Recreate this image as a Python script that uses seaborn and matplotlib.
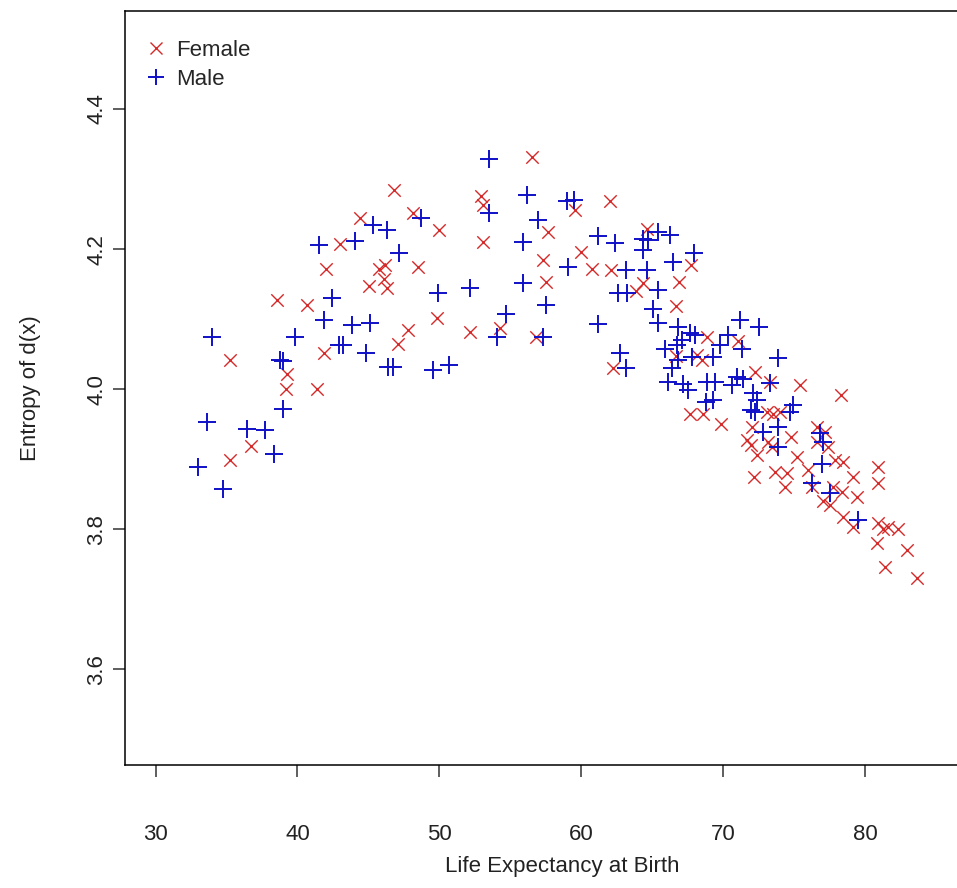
import matplotlib
matplotlib.use("Agg")
import matplotlib.pyplot as plt
from matplotlib.lines import Line2D
import pandas as pd
import seaborn as sns

# life expectancy at birth / entropy of d(x)
female_e0 = [35.25, 35.25, 36.73, 38.54, 39.25, 39.2, 40.65, 41.36, 41.87, 42.02,
             43.0, 44.41, 45.05, 45.77, 46.17, 46.1, 46.33, 46.8, 47.1, 47.77,
             48.17, 48.52, 49.85, 50.0, 52.16, 52.94, 53.1, 53.1, 54.28, 56.51,
             56.82, 57.29, 57.52, 57.64, 59.56, 59.99, 60.74, 62.03, 62.1, 62.26,
             63.88, 64.38, 64.62, 66.68, 66.89, 66.68, 67.74, 68.14, 68.49, 68.84,
             71.03, 72.25, 73.3, 75.4, 67.67, 68.6, 69.87, 73.07, 73.54, 74.0,
             72.04, 71.69, 71.97, 72.39, 73.17, 73.45, 74.79, 72.18, 73.66, 74.51,
             74.37, 75.21, 75.98, 76.62, 77.18, 76.62, 77.39, 77.89, 78.45, 79.15,
             80.92, 80.92, 76.27, 77.75, 78.38, 77.04, 77.53, 79.44, 78.45, 79.15,
             80.92, 81.27, 81.6, 82.33, 80.85, 82.96, 81.41, 83.66, 78.31]
female_entropy = [4.042, 3.899, 3.919, 4.127, 4.022, 4.0, 4.12, 4.0, 4.052, 4.171,
                  4.207, 4.244, 4.147, 4.172, 4.177, 4.157, 4.145, 4.284, 4.065, 4.084,
                  4.252, 4.174, 4.101, 4.227, 4.082, 4.276, 4.263, 4.21, 4.087, 4.332,
                  4.074, 4.185, 4.153, 4.224, 4.256, 4.196, 4.172, 4.268, 4.17, 4.03,
                  4.14, 4.151, 4.229, 4.119, 4.153, 4.047, 4.177, 4.049, 4.042, 4.075,
                  4.069, 4.025, 4.01, 4.006, 3.965, 3.965, 3.95, 3.967, 3.965, 3.967,
                  3.946, 3.927, 3.92, 3.906, 3.924, 3.917, 3.931, 3.874, 3.881, 3.88,
                  3.86, 3.903, 3.884, 3.946, 3.939, 3.924, 3.917, 3.899, 3.896, 3.874,
                  3.889, 3.866, 3.86, 3.86, 3.853, 3.841, 3.834, 3.846, 3.817, 3.803,
                  3.809, 3.801, 3.803, 3.801, 3.781, 3.77, 3.746, 3.73, 3.991]

male_e0 = [33.02, 33.6, 33.96, 34.78, 36.43, 37.7, 38.37, 39.0, 38.77, 39.0,
           39.83, 41.55, 41.87, 42.41, 42.95, 43.23, 43.87, 44.06, 44.8, 45.12,
           45.3, 46.29, 46.4, 46.76, 47.18, 48.69, 49.58, 49.9, 50.7, 52.18,
           53.5, 53.52, 54.05, 54.7, 55.88, 55.88, 56.16, 56.98, 57.29, 57.5,
           59.05, 58.98, 59.51, 61.2, 61.2, 62.4, 62.6, 62.73, 63.16, 63.16,
           63.2, 64.38, 64.73, 64.38, 64.62, 65.43, 65.43, 65.08, 65.43, 65.9,
           66.26, 66.45, 66.84, 67.08, 66.73, 66.84, 66.38, 66.14, 67.15, 67.5,
           67.67, 68.0, 67.79, 67.97, 69.31, 69.78, 68.9, 69.4, 68.8, 69.31,
           70.37, 70.6, 70.96, 71.38, 71.19, 71.31, 72.55, 72.13, 72.37, 72.0,
           72.25, 73.3, 73.89, 74.71, 74.95, 72.8, 73.87, 73.87, 76.83, 77.04,
           76.97, 76.27, 77.53, 79.5]
male_entropy = [3.889, 3.953, 4.075, 3.858, 3.943, 3.941, 3.907, 3.971, 4.042, 4.04,
                4.074, 4.206, 4.099, 4.13, 4.063, 4.063, 4.091, 4.212, 4.051, 4.095,
                4.234, 4.227, 4.031, 4.031, 4.195, 4.244, 4.028, 4.137, 4.035, 4.145,
                4.328, 4.251, 4.074, 4.107, 4.21, 4.152, 4.277, 4.241, 4.074, 4.12,
                4.175, 4.269, 4.27, 4.218, 4.093, 4.208, 4.137, 4.052, 4.03, 4.17,
                4.137, 4.215, 4.213, 4.199, 4.17, 4.225, 4.141, 4.115, 4.094, 4.058,
                4.22, 4.182, 4.089, 4.07, 4.063, 4.041, 4.03, 4.01, 4.008, 3.999,
                4.08, 4.077, 4.046, 4.194, 4.046, 4.063, 4.01, 4.01, 3.982, 3.984,
                4.077, 4.006, 4.018, 4.015, 4.099, 4.058, 4.089, 3.994, 3.984, 3.97,
                3.968, 4.009, 4.045, 3.968, 3.977, 3.939, 3.946, 3.917, 3.937, 3.924,
                3.893, 3.866, 3.851, 3.813]

x_ticks = [30, 40, 50, 60, 70, 80]
y_ticks = [3.6, 3.8, 4.0, 4.2, 4.4]

female = pd.DataFrame({"e0": female_e0, "entropy": female_entropy})
male = pd.DataFrame({"e0": male_e0, "entropy": male_entropy})

red = "#d42a2a"
blue = "#1010c8"

sns.set_theme(style="ticks")
plt.rcParams["font.family"] = ["Liberation Sans", "DejaVu Sans"]

fig = plt.figure(figsize=(9.57, 8.88), dpi=100)
# R-style box; the right edge of the box lies outside the saved picture
ax = fig.add_axes([125 / 957, 1 - 765 / 888, (1000 - 125) / 957, (765 - 11) / 888])

sns.scatterplot(data=female, x="e0", y="entropy", marker="x", color=red,
                s=80, linewidth=1.0, ax=ax)
sns.scatterplot(data=male, x="e0", y="entropy", marker="+", color=blue,
                s=150, linewidth=1.4, ax=ax)

ax.set_xlim(27.85, 27.85 + (1000 - 125) / 14.19)
ax.set_ylim(3.4633, 4.54)
ax.set_xticks(x_ticks)
ax.set_xticklabels([str(t) for t in x_ticks])
ax.set_yticks(y_ticks)
ax.set_yticklabels([f"{t:.1f}" for t in y_ticks], rotation=90, va="center")

for s in ax.spines.values():
    s.set_color("black")
    s.set_linewidth(1.1)
ax.tick_params(axis="both", direction="out", length=8.6, width=1.1,
               color="#333333", labelsize=16, labelcolor="#222222")
ax.tick_params(axis="x", pad=34)
ax.tick_params(axis="y", pad=4)

ax.set_xlabel("Life Expectancy at Birth", fontsize=16, color="#222222", labelpad=8)
ax.set_ylabel("Entropy of d(x)", fontsize=16, color="#222222", labelpad=33)

handles = [
    Line2D([], [], marker="x", color=red, linestyle="", markersize=9, markeredgewidth=1.0),
    Line2D([], [], marker="+", color=blue, linestyle="", markersize=12, markeredgewidth=1.4),
]
ax.legend(handles, ["Female", "Male"], loc="upper left", frameon=False,
          fontsize=16, handletextpad=0.3, borderaxespad=0.4, labelspacing=0.35,
          handlelength=1.2, bbox_to_anchor=(0.0, 0.985))

fig.savefig("out.png", dpi=100)
